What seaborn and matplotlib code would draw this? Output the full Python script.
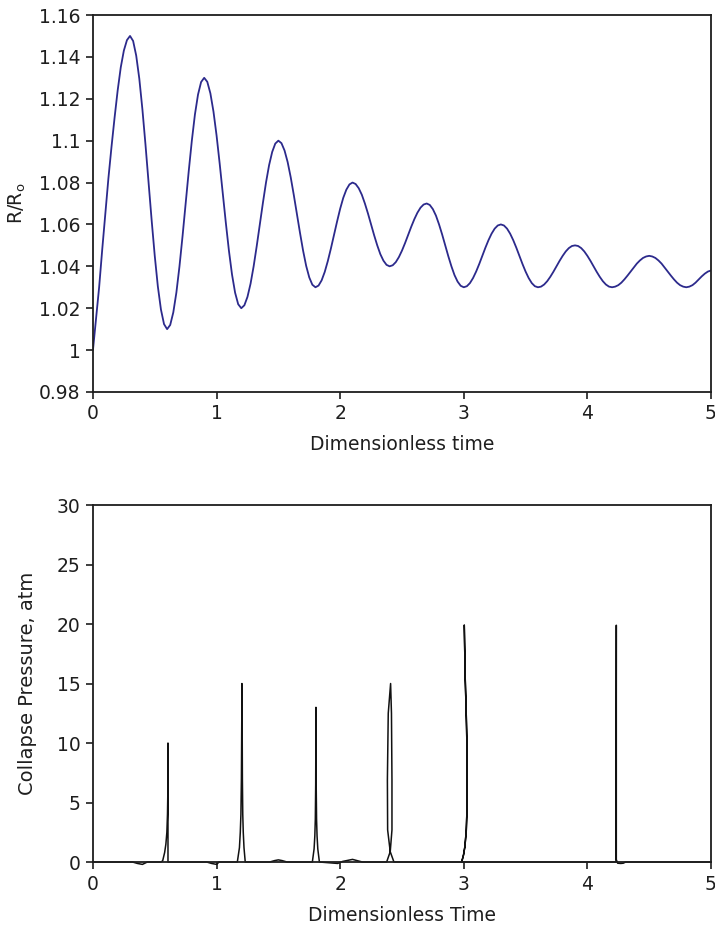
import numpy as np
import pandas as pd
import matplotlib
matplotlib.use("Agg")
import matplotlib.pyplot as plt
import seaborn as sns

# ---------------- data: top panel (R/Ro vs dimensionless time) ----------------
time_top = np.round(np.arange(0, 5.0001, 0.025), 3)
r_ratio = [
    # 0.000 - 0.300
    1.0000, 1.0150, 1.0300, 1.0480, 1.0650, 1.0820, 1.0970, 1.1110, 1.1240, 1.1350, 1.1430, 1.1480, 1.1500,
    # 0.325 - 0.600
    1.1476, 1.1406, 1.1296, 1.1150, 1.0981, 1.0800, 1.0619, 1.0450, 1.0304, 1.0194, 1.0124, 1.0100,
    # 0.625 - 0.900
    1.0120, 1.0180, 1.0275, 1.0400, 1.0545, 1.0700, 1.0855, 1.1000, 1.1125, 1.1220, 1.1280, 1.1300,
    # 0.925 - 1.200
    1.1281, 1.1226, 1.1139, 1.1025, 1.0892, 1.0750, 1.0608, 1.0475, 1.0361, 1.0274, 1.0219, 1.0200,
    # 1.225 - 1.500
    1.0214, 1.0254, 1.0317, 1.0400, 1.0497, 1.0600, 1.0703, 1.0800, 1.0883, 1.0946, 1.0986, 1.1000,
    # 1.525 - 1.800
    1.0988, 1.0953, 1.0898, 1.0825, 1.0740, 1.0650, 1.0560, 1.0475, 1.0402, 1.0347, 1.0312, 1.0300,
    # 1.825 - 2.100
    1.0308, 1.0333, 1.0373, 1.0425, 1.0485, 1.0550, 1.0614, 1.0675, 1.0727, 1.0766, 1.0791, 1.0800,
    # 2.125 - 2.400
    1.0793, 1.0773, 1.0742, 1.0700, 1.0652, 1.0600, 1.0548, 1.0500, 1.0458, 1.0427, 1.0407, 1.0400,
    # 2.425 - 2.700
    1.0405, 1.0420, 1.0444, 1.0475, 1.0511, 1.0550, 1.0589, 1.0625, 1.0656, 1.0680, 1.0695, 1.0700,
    # 2.725 - 3.000
    1.0693, 1.0673, 1.0642, 1.0600, 1.0552, 1.0500, 1.0448, 1.0400, 1.0358, 1.0327, 1.0307, 1.0300,
    # 3.025 - 3.300
    1.0305, 1.0320, 1.0344, 1.0375, 1.0411, 1.0450, 1.0489, 1.0525, 1.0556, 1.0580, 1.0595, 1.0600,
    # 3.325 - 3.600
    1.0595, 1.0580, 1.0556, 1.0525, 1.0489, 1.0450, 1.0411, 1.0375, 1.0344, 1.0320, 1.0305, 1.0300,
    # 3.625 - 3.900
    1.0303, 1.0313, 1.0329, 1.0350, 1.0374, 1.0400, 1.0426, 1.0450, 1.0471, 1.0487, 1.0497, 1.0500,
    # 3.925 - 4.200
    1.0497, 1.0487, 1.0471, 1.0450, 1.0426, 1.0400, 1.0374, 1.0350, 1.0329, 1.0313, 1.0303, 1.0300,
    # 4.225 - 4.500
    1.0303, 1.0310, 1.0322, 1.0338, 1.0356, 1.0375, 1.0394, 1.0413, 1.0428, 1.0440, 1.0447, 1.0450,
    # 4.525 - 4.800
    1.0447, 1.0440, 1.0428, 1.0413, 1.0394, 1.0375, 1.0356, 1.0338, 1.0322, 1.0310, 1.0303, 1.0300,
    # 4.825 - 5.000
    1.0303, 1.0310, 1.0322, 1.0337, 1.0352, 1.0365, 1.0375, 1.0380,
]

# ---------------- data: bottom panel (collapse pressure, traced path) ----------------
time_bot = [
    0.00, 0.32, 0.36, 0.40, 0.44, 0.55, 0.564, 0.58, 0.59, 0.598, 0.603, 0.606, 0.607,
    0.607, 0.62, 0.92, 0.96, 1.00, 1.02,
    1.168, 1.185, 1.192, 1.197, 1.201, 1.204, 1.205, 1.207, 1.209, 1.212, 1.216, 1.222, 1.232,
    1.43, 1.47, 1.50, 1.53, 1.57,
    1.775, 1.789, 1.795, 1.799, 1.802, 1.804, 1.806, 1.809, 1.813, 1.819, 1.832,
    1.98, 2.02, 2.10, 2.18, 2.22,
    2.376, 2.405, 2.419, 2.419, 2.415, 2.408, 2.389, 2.382, 2.384, 2.405, 2.435,
    2.983, 2.998, 3.009, 3.020, 3.025, 3.028, 3.027, 3.023, 3.018, 3.012, 3.008, 3.004,
    3.008, 3.012, 3.018, 3.023, 3.027, 3.028, 3.025, 3.020, 3.009, 2.998, 2.983,
    4.232, 4.234, 4.234, 4.245, 4.27, 4.29, 4.31, 5.00,
]
pressure = [
    0.0, 0.0, -0.12, -0.2, 0.0, 0.0, 0.1, 0.8, 1.5, 2.5, 4.0, 6.0, 10.0,
    0.0, 0.0, 0.0, -0.12, -0.2, 0.0,
    0.0, 1.2, 2.5, 4.0, 7.0, 12.0, 15.0, 12.0, 7.0, 4.0, 2.5, 1.2, 0.0,
    0.0, 0.12, 0.18, 0.12, 0.0,
    0.0, 1.1, 2.2, 3.6, 6.5, 13.0, 6.5, 3.6, 2.2, 1.1, 0.0,
    -0.12, 0.05, 0.22, 0.0, 0.0,
    0.0, 0.87, 2.7, 6.9, 12.5, 15.0, 12.5, 6.9, 2.7, 0.87, 0.0,
    0.0, 0.6, 1.3, 2.6, 4.1, 6.9, 9.0, 11.1, 13.2, 15.3, 17.6, 19.9,
    17.6, 15.3, 13.2, 11.1, 9.0, 6.9, 4.1, 2.6, 1.3, 0.6, 0.0,
    0.0, 19.9, 0.2, -0.1, -0.12, -0.1, 0.0, 0.0,
]

top_ticks_y = [0.98, 1.0, 1.02, 1.04, 1.06, 1.08, 1.1, 1.12, 1.14, 1.16]
top_tick_labels = ["0.98", "1", "1.02", "1.04", "1.06", "1.08", "1.1", "1.12", "1.14", "1.16"]
x_ticks = [0, 1, 2, 3, 4, 5]
bot_ticks_y = [0, 5, 10, 15, 20, 25, 30]

df_top = pd.DataFrame({"t": time_top, "r": r_ratio})
df_bot = pd.DataFrame({"t": time_bot, "p": pressure})

sns.set_style("ticks")
plt.rcParams["font.family"] = ["DejaVu Sans"]
plt.rcParams["mathtext.fontset"] = "custom"
plt.rcParams["mathtext.rm"] = "DejaVu Sans"

fig = plt.figure(figsize=(7.15, 9.26), dpi=100)
ax1 = fig.add_axes([0.130, 0.5767, 0.8644, 0.4071])
ax2 = fig.add_axes([0.130, 0.0691, 0.8644, 0.3855])

dark = "#1e1e1e"
fs = 13.5

sns.lineplot(data=df_top, x="t", y="r", ax=ax1, color="#2C2A8C", linewidth=1.3,
             sort=False, estimator=None)
ax1.set_xlim(0, 5)
ax1.set_ylim(0.98, 1.16)
ax1.set_yticks(top_ticks_y)
ax1.set_yticklabels(top_tick_labels)
ax1.set_xticks(x_ticks)
ax1.set_xlabel("Dimensionless time", fontsize=13.5, color=dark, labelpad=8)
ax1.set_ylabel(r"R/R$_{\mathregular{o}}$", fontsize=13.5, color=dark, labelpad=8)

sns.lineplot(data=df_bot, x="t", y="p", ax=ax2, color="#111111", linewidth=1.1,
             sort=False, estimator=None)
for line in ax2.get_lines():
    line.set_clip_on(False)
ax2.set_xlim(0, 5)
ax2.set_ylim(0, 30)
ax2.set_yticks(bot_ticks_y)
ax2.set_xticks(x_ticks)
ax2.set_xlabel("Dimensionless Time", fontsize=13.5, color=dark, labelpad=9)
ax2.set_ylabel("Collapse Pressure, atm", fontsize=14, color=dark, labelpad=14)

for ax in (ax1, ax2):
    for s in ax.spines.values():
        s.set_visible(True)
        s.set_color(dark)
        s.set_linewidth(1.3)
    ax.tick_params(direction="out", length=5, width=1.2, color=dark,
                   labelsize=fs, labelcolor=dark, pad=4)

fig.savefig("out.png", dpi=100)
